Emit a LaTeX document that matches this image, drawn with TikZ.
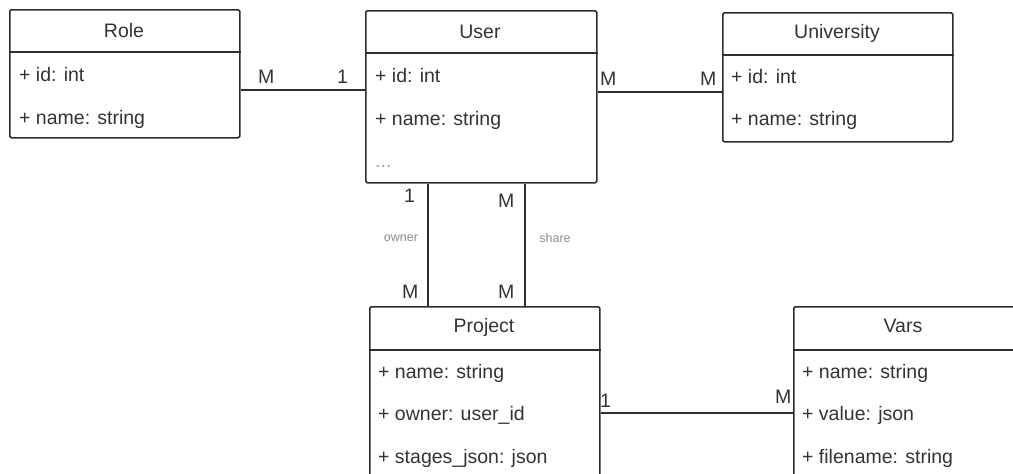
\documentclass[tikz,border=0pt]{standalone}
\usepackage{fontspec}
\setmainfont{Liberation Sans}
\definecolor{boxc}{HTML}{2E2E2E}
\definecolor{txt}{HTML}{333333}
\definecolor{soft}{HTML}{8A8A8A}
\newcommand{\umlfont}{\fontsize{19.5}{23}\selectfont}
\newcommand{\tinyfont}{\fontsize{12.5}{15}\selectfont}
\begin{document}
\begin{tikzpicture}[x=1pt,y=-1pt,
  cls/.style={draw=boxc, fill=white, rounded corners=1.5pt, line width=1.6pt, anchor=north west, inner sep=0},
  sep/.style={draw=boxc, line width=1.6pt},
  link/.style={draw=boxc, line width=1.5pt},
  title/.style={anchor=base, inner sep=0, text=txt, font=\umlfont},
  field/.style={anchor=base west, inner sep=0, text=txt, font=\umlfont},
  mult/.style={anchor=base west, inner sep=0, text=txt, font=\umlfont},
  rolename/.style={anchor=center, inner sep=0, text=soft, font=\tinyfont}]
\clip (0,0) rectangle (1013,474);

% class boxes
\node[cls, minimum width=230pt, minimum height=128pt] (role) at (9,9) {};
\node[cls, minimum width=231pt, minimum height=172pt] (user) at (365,10) {};
\node[cls, minimum width=230pt, minimum height=129pt] (univ) at (722,12) {};
\node[cls, minimum width=230pt, minimum height=200pt] (proj) at (369,306) {};
\node[cls, minimum width=240pt, minimum height=200pt] (vars) at (793,306) {};

% header separators
\draw[sep] (role.west |- 0,52) -- (role.east |- 0,52);
\draw[sep] (user.west |- 0,53) -- (user.east |- 0,53);
\draw[sep] (univ.west |- 0,55) -- (univ.east |- 0,55);
\draw[sep] (proj.west |- 0,350) -- (proj.east |- 0,350);
\draw[sep] (vars.west |- 0,350) -- (vars.east |- 0,350);

% Role
\node[title] (roleT) at (124,37) {Role};
\node[field] (roleA) at (19,81) {+ id: int};
\node[field] (roleB) at (19,124) {+ name: string};

% User
\node[title] (userT) at (480,38) {User};
\node[field] (userA) at (375,82) {+ id: int};
\node[field] (userB) at (375,125) {+ name: string};
\node[field, text=soft!80] (userC) at (375,167) {...};

% University
\node[title] (univT) at (837,38) {University};
\node[field] (univA) at (731,83) {+ id: int};
\node[field] (univB) at (731,125) {+ name: string};

% Project
\node[title] (projT) at (484,332) {Project};
\node[field] (projA) at (378,378) {+ name: string};
\node[field] (projB) at (378,420) {+ owner: user\_id};
\node[field] (projC) at (378,463) {+ stages\_json: json};

% Vars
\node[title] (varsT) at (903,332) {Vars};
\node[field] (varsA) at (802,378) {+ name: string};
\node[field] (varsB) at (802,420) {+ value: json};
\node[field] (varsC) at (802,463) {+ filename: string};

% associations
\draw[link] (role.east |- 0,90) -- (user.west |- 0,90);
\draw[link] (user.east |- 0,92) -- (univ.west |- 0,92);
\draw[link] (user.south -| 428,0) -- (proj.north -| 428,0);
\draw[link] (user.south -| 525,0) -- (proj.north -| 525,0);
\draw[link] (proj.east |- 0,413) -- (vars.west |- 0,413);

% multiplicities
\node[mult] (m1) at (258,83) {M};
\node[mult] (m2) at (337,83) {1};
\node[mult] (m3) at (600,85) {M};
\node[mult] (m4) at (700,85) {M};
\node[mult] (m5) at (404,202) {1};
\node[mult] (m6) at (402,298) {M};
\node[mult] (m7) at (498,207) {M};
\node[mult] (m8) at (498,298) {M};
\node[mult] (m9) at (600,407) {1};
\node[mult] (m10) at (775,403) {M};

% role names
\node[rolename] (own) at (401,238) {owner};
\node[rolename] (shr) at (555,238) {share};
\end{tikzpicture}
\end{document}
